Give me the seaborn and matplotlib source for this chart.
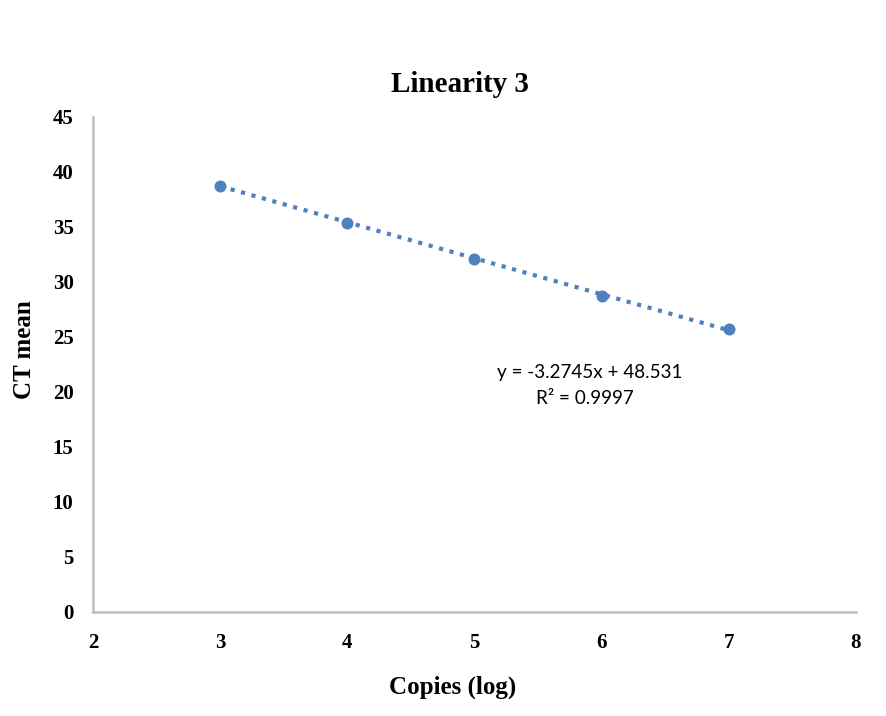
import numpy as np
import pandas as pd
import matplotlib
matplotlib.use("Agg")
import matplotlib.pyplot as plt
import seaborn as sns

# data
copies_log = [3, 4, 5, 6, 7]
ct_mean = [38.7, 35.4, 32.1, 28.7, 25.7]
slope = -3.2745
intercept = 48.531
r_squared = 0.9997

df = pd.DataFrame({"copies": copies_log, "ct": ct_mean})

sns.set_style("white")
plt.rcParams["font.family"] = ["Liberation Serif", "DejaVu Serif"]
plt.rcParams["text.color"] = "black"
plt.rcParams["axes.labelcolor"] = "black"
plt.rcParams["xtick.color"] = "black"
plt.rcParams["ytick.color"] = "black"

blue = "#4F81BD"

fig = plt.figure(figsize=(8.86, 7.16), dpi=100)
ax = fig.add_axes([0.105, 0.1453, 0.861, 0.6913])

# dotted linear trend line
trend_x = np.array([min(copies_log), max(copies_log)])
ax.plot(trend_x, slope * trend_x + intercept, linestyle=(0, (1, 1.6)),
        color=blue, linewidth=3, zorder=2)

# data points
sns.scatterplot(data=df, x="copies", y="ct", color=blue, s=75,
                edgecolor=blue, linewidth=0, ax=ax, zorder=3)
ax.set_xlabel("")
ax.set_ylabel("")

ax.set_xlim(2, 8)
ax.set_ylim(0, 45)
ax.set_xticks(range(2, 9))
ax.set_yticks(range(0, 46, 5))
ax.tick_params(axis="y", length=0, labelsize=15, pad=14)
ax.tick_params(axis="x", length=0, labelsize=15, pad=15)
for lab in ax.get_xticklabels() + ax.get_yticklabels():
    lab.set_fontweight("bold")

for side in ["top", "right"]:
    ax.spines[side].set_visible(False)
for side in ["left", "bottom"]:
    ax.spines[side].set_color("#BEBEBE")
    ax.spines[side].set_linewidth(1.8)

# title and axis labels are centred on the whole chart area, as in Excel
fig.text(460 / 886, 1 - 85 / 716, "Linearity 3", fontsize=21,
         fontweight="bold", ha="center", va="center")
fig.text(453 / 886, 1 - 687 / 716, "Copies (log)", fontsize=18,
         fontweight="bold", ha="center", va="center")
fig.text(25 / 886, 1 - 350 / 716, "CT mean", fontsize=18,
         fontweight="bold", ha="center", va="center", rotation=90)

# equation annotation
ax.text(5.91, 21.8, "y = {:.4f}x + {:.3f}".format(slope, intercept),
        ha="center", va="center", fontsize=13.6, family=["Lato", "DejaVu Sans"])
ax.text(5.87, 19.45, "R² = {:.4f}".format(r_squared),
        ha="center", va="center", fontsize=13.6, family=["Lato", "DejaVu Sans"])

plt.savefig("out.png", dpi=100)
